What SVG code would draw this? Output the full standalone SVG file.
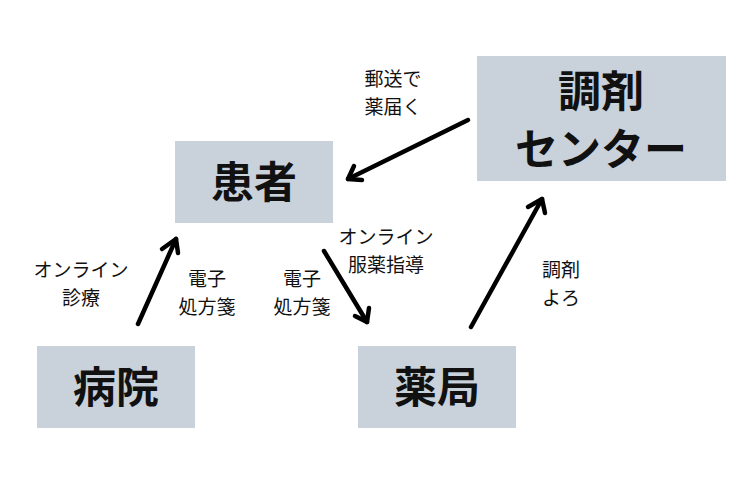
<svg xmlns="http://www.w3.org/2000/svg" width="740" height="500" viewBox="0 0 740 500">
<style>
.box{fill:#c9d1db}
.big{font-family:"Noto Sans CJK JP","Noto Sans",sans-serif;font-weight:700;font-size:43px;fill:#111;text-anchor:middle}
.lbl{font-family:"Noto Sans CJK JP","Noto Sans",sans-serif;font-size:19px;fill:#111;text-anchor:middle}
.arr{stroke:#000;stroke-width:4.5;fill:none;stroke-linecap:round;stroke-linejoin:round}
</style>
<rect width="740" height="500" fill="#fff"/>
<g id="patient">
<rect class="box" x="175" y="141" width="158" height="82"/>
<text class="big" x="254" y="198">患者</text>
</g>
<g id="center">
<rect class="box" x="477" y="56" width="249" height="125"/>
<text class="big" x="601" y="107">調剤</text>
<text class="big" x="601" y="165">センター</text>
</g>
<g id="hospital">
<rect class="box" x="37" y="346" width="158" height="82"/>
<text class="big" x="116" y="403">病院</text>
</g>
<g id="pharmacy">
<rect class="box" x="358" y="346" width="158" height="82"/>
<text class="big" x="437" y="403">薬局</text>
</g>
<g id="connectors">
<line class="arr" x1="138" y1="324" x2="176" y2="239"/>
<polyline class="arr" points="162,249 176,239 178,253"/>
<line class="arr" x1="324" y1="251" x2="367" y2="322"/>
<polyline class="arr" points="355,316 367,322 369,308"/>
<line class="arr" x1="471" y1="327" x2="542" y2="199"/>
<polyline class="arr" points="528,207 542,199 545,213"/>
<line class="arr" x1="468" y1="120" x2="348" y2="179"/>
<polyline class="arr" points="354,166 348,179 362,180"/>
</g>
<g id="labels">
<text class="lbl" x="81" y="277">オンライン</text>
<text class="lbl" x="81" y="305">診療</text>
<text class="lbl" x="207" y="286">電子</text>
<text class="lbl" x="207" y="314">処方箋</text>
<text class="lbl" x="302" y="286">電子</text>
<text class="lbl" x="302" y="314">処方箋</text>
<text class="lbl" x="386" y="244">オンライン</text>
<text class="lbl" x="386" y="272">服薬指導</text>
<text class="lbl" x="393" y="86">郵送で</text>
<text class="lbl" x="393" y="114">薬届く</text>
<text class="lbl" x="561" y="277">調剤</text>
<text class="lbl" x="561" y="305">よろ</text>
</g>
</svg>
